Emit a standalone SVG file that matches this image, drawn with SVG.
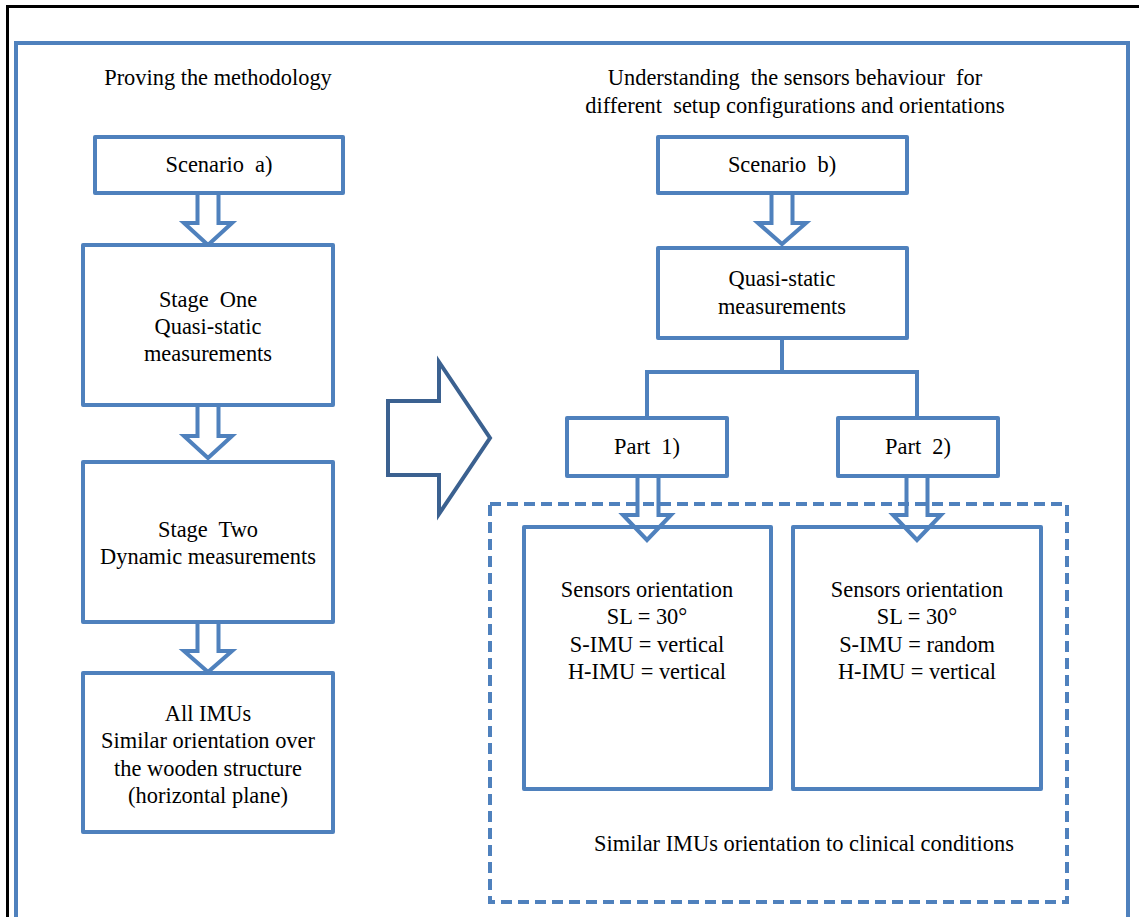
<svg xmlns="http://www.w3.org/2000/svg" width="1139" height="917" viewBox="0 0 1139 917">
  <style>
    .box { fill: #ffffff; stroke: #4F81BD; stroke-width: 4; stroke-linejoin: round; }
    .blk { fill: none; stroke: #4F81BD; stroke-width: 4; stroke-linejoin: miter; }
    .conn { fill: none; stroke: #4F81BD; stroke-width: 4; }
    .dash { fill: none; stroke: #4F81BD; stroke-width: 4; stroke-dasharray: 11 6; }
    .big { fill: #ffffff; stroke: #3B6190; stroke-width: 4; stroke-linejoin: miter; }
    text { font-family: "Liberation Serif", "Times New Roman", serif; font-size: 22.4px; fill: #000000; text-anchor: middle; white-space: pre; }
  </style>

  <!-- page frame -->
  <path d="M1139 6.5 H7.5 V917" fill="none" stroke="#000000" stroke-width="3"/>
  <path d="M16 917 V43 H1128 V917" fill="none" stroke="#4F81BD" stroke-width="4"/>

  <!-- column headings -->
  <text x="218" y="85">Proving the methodology</text>
  <text x="795" y="85">Understanding  the sensors behaviour  for</text>
  <text x="795" y="113">different  setup configurations and orientations</text>

  <!-- transition arrow between the two scenarios -->
  <path class="big" d="M388 401 H439 V362 L490 438 L439 514 V475 H388 Z"/>

  <g id="connectors">
    <!-- block arrows, left column -->
    <path class="blk" d="M197.5 193 V223 H184 L208 245 L232 223 H218.5 V193"/>
    <path class="blk" d="M197.5 405 V436 H184 L208 458 L232 436 H218.5 V405"/>
    <path class="blk" d="M197.5 622 V651 H184 L208 672 L232 651 H218.5 V622"/>
    <!-- block arrow, right column -->
    <path class="blk" d="M771.5 194 V223 H758 L782 244 L806 223 H792.5 V194"/>
    <!-- split into the two parts -->
    <path class="conn" d="M782 338 V372"/>
    <path class="conn" d="M647 418 V372 H917 V418"/>
    <!-- part arrows -->
    <path class="blk" d="M637.5 470 V515 H623 L647 540 L671 515 H658.5 V470 Z"/>
    <path class="blk" d="M906.5 476 V515 H893 L917 540 L941 515 H927.5 V476"/>
  </g>

  <g id="scenario-a">
    <rect class="box" x="95" y="137" width="248" height="56"/>
    <text x="219" y="172">Scenario  a)</text>
  </g>

  <g id="stage-one">
    <rect class="box" x="83" y="245" width="250" height="160"/>
    <text x="208" y="307">Stage  One</text>
    <text x="208" y="334">Quasi-static</text>
    <text x="208" y="361">measurements</text>
  </g>

  <g id="stage-two">
    <rect class="box" x="83" y="462" width="250" height="160"/>
    <text x="208" y="537">Stage  Two</text>
    <text x="208" y="564">Dynamic measurements</text>
  </g>

  <g id="all-imus">
    <rect class="box" x="83" y="673" width="250" height="159"/>
    <text x="208" y="721">All IMUs</text>
    <text x="208" y="748">Similar orientation over</text>
    <text x="208" y="776">the wooden structure</text>
    <text x="208" y="803">(horizontal plane)</text>
  </g>

  <g id="scenario-b">
    <rect class="box" x="658" y="137" width="249" height="56"/>
    <text x="782" y="172">Scenario  b)</text>
  </g>

  <g id="quasi-static">
    <rect class="box" x="658" y="248" width="249" height="90"/>
    <text x="782" y="286">Quasi-static</text>
    <text x="782" y="314">measurements</text>
  </g>

  <g id="part-1">
    <rect class="box" x="567" y="418" width="160" height="58"/>
    <text x="647" y="454">Part  1)</text>
  </g>

  <g id="part-2">
    <rect class="box" x="838" y="418" width="160" height="58"/>
    <text x="918" y="454">Part  2)</text>
  </g>

  <g id="clinical-conditions">
    <rect class="dash" x="490" y="504" width="577" height="398"/>
    <text x="804" y="851">Similar IMUs orientation to clinical conditions</text>
  </g>

  <g id="orientation-1">
    <rect class="box" x="524" y="527" width="247" height="262" style="fill:none"/>
    <text x="647" y="597">Sensors orientation</text>
    <text x="647" y="624">SL = 30°</text>
    <text x="647" y="652">S-IMU = vertical</text>
    <text x="647" y="679">H-IMU = vertical</text>
  </g>

  <g id="orientation-2">
    <rect class="box" x="793" y="527" width="248" height="262" style="fill:none"/>
    <text x="917" y="597">Sensors orientation</text>
    <text x="917" y="624">SL = 30°</text>
    <text x="917" y="652">S-IMU = random</text>
    <text x="917" y="679">H-IMU = vertical</text>
  </g>
</svg>
